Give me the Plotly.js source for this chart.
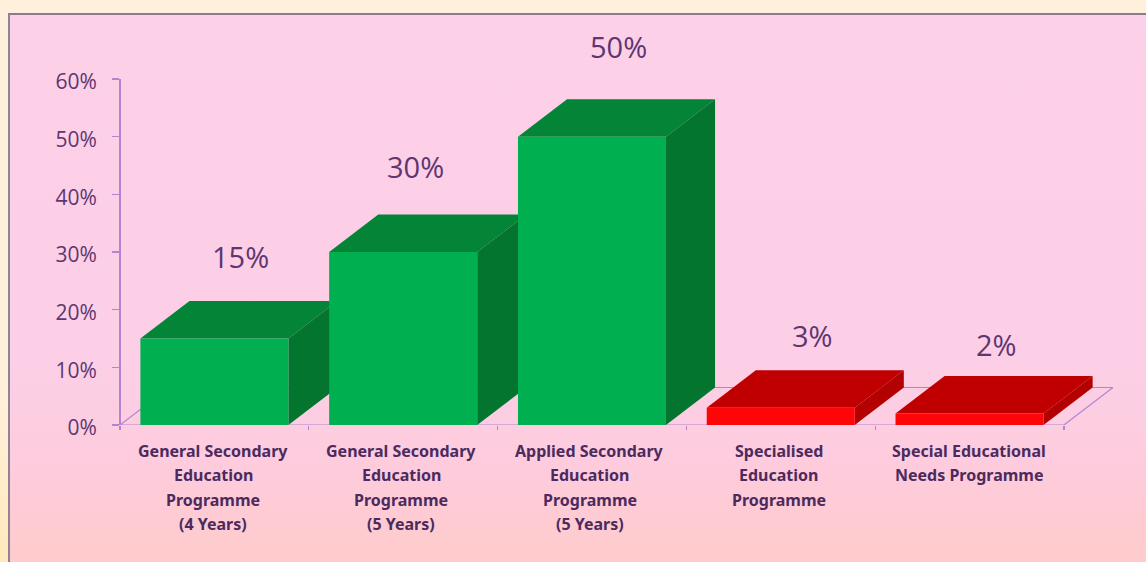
<!DOCTYPE html>
<html>
<head>
<meta charset="utf-8">
<script src="https://cdn.plot.ly/plotly-3.0.1.min.js"></script>
<style>
html,body{margin:0;padding:0;width:1146px;height:562px;overflow:hidden;
  background:linear-gradient(to bottom,#fff0dc 0%,#fff0da 70%,#ffe9bc 100%);}
#panel{position:absolute;left:8px;top:13px;width:1138px;height:549px;box-sizing:border-box;
  border-top:2px solid #8b7a8e;border-left:2px solid #8f8496;
  background:linear-gradient(to bottom,#fcd0e8 0%,#fccfe6 65%,#fecbdb 85%,#ffcbcb 100%);}
#chart{position:absolute;left:0;top:0;width:1146px;height:562px;}
</style>
</head>
<body>
<div id="panel"></div>
<div id="chart"></div>
<script>
// ---- data ----
var categories = [
  ['General Secondary','Education','Programme','(4 Years)'],
  ['General Secondary','Education','Programme','(5 Years)'],
  ['Applied Secondary','Education','Programme','(5 Years)'],
  ['Specialised','Education','Programme'],
  ['Special Educational','Needs Programme']
];
var values = [15, 30, 50, 3, 2];
var yTicks = [0, 10, 20, 30, 40, 50, 60];

// ---- styling ----
var frontColors = ['#00af50','#00af50','#00af50','#fe0508','#fe0508'];
var topColors   = ['#038436','#038436','#038436','#c00000','#c00000'];
var sideColors  = ['#04752f','#04752f','#04752f','#b30000','#b30000'];
var labelShiftX = [26, 12, 27, 32, 27];
var labelShiftY = [82, 86, 90, 72, 69];
var categoryShiftX = [-1, -2, -2, -2, -1];
var barWidth = 0.784, depthX = 0.26, depthY = 6.5;
var textColor = '#5e3670', categoryColor = '#4c2a5e', axisColor = '#b384d0';

var traces = [];
// floor of the 3D scene
traces.push({
  type:'scatter', mode:'lines', hoverinfo:'skip', showlegend:false, zorder:0,
  x:[-0.5, 4.5, 4.5+depthX, -0.5+depthX, -0.5],
  y:[0, 0, depthY, depthY, 0],
  line:{color:axisColor, width:1.2}
});
values.forEach(function(v, i){
  var l = i - barWidth/2, r = i + barWidth/2;
  traces.push({
    type:'scatter', mode:'lines', fill:'toself', hoverinfo:'skip', showlegend:false,
    zorder: 2*i + 1,
    x:[l, r, r+depthX, l+depthX, l], y:[v, v, v+depthY, v+depthY, v],
    line:{width:0, color:topColors[i]}, fillcolor:topColors[i]
  });
  traces.push({
    type:'scatter', mode:'lines', fill:'toself', hoverinfo:'skip', showlegend:false,
    zorder: 2*i + 1,
    x:[r, r+depthX, r+depthX, r, r], y:[0, depthY, v+depthY, v, 0],
    line:{width:0, color:sideColors[i]}, fillcolor:sideColors[i]
  });
  traces.push({
    type:'bar', x:[i], y:[v], width:barWidth, showlegend:false, hoverinfo:'skip',
    zorder: 2*i + 2,
    marker:{color:frontColors[i], line:{width:0}}
  });
});

var annotations = [];
values.forEach(function(v, i){
  annotations.push({
    x:i, y:v, xref:'x', yref:'y', text:v + '%', showarrow:false,
    xanchor:'center', yanchor:'middle',
    xshift:labelShiftX[i], yshift:labelShiftY[i],
    font:{family:'"Open Sans", sans-serif', size:29, color:textColor}
  });
  categories[i].forEach(function(line, k){
    annotations.push({
      x:i, y:0, xref:'x', yref:'paper', text:'<b>' + line + '</b>', showarrow:false,
      xanchor:'center', yanchor:'middle', yshift:-26 - 24.4*k, xshift:categoryShiftX[i],
      font:{family:'"Noto Sans", sans-serif', size:16, color:categoryColor}
    });
  });
});

var layout = {
  width:1146, height:562,
  margin:{l:119.5, r:32.5, t:79, b:137, pad:0},
  paper_bgcolor:'rgba(0,0,0,0)', plot_bgcolor:'rgba(0,0,0,0)',
  barmode:'overlay', showlegend:false, dragmode:false,
  xaxis:{
    type:'linear', range:[-0.5, 4.5+depthX], showgrid:false, zeroline:false, showline:false,
    ticks:'', showticklabels:false,
    minor:{tick0:-0.5, dtick:1, ticks:'outside', ticklen:4, tickwidth:1.2, tickcolor:axisColor, showgrid:false}
  },
  yaxis:{
    range:[0, 60], tickmode:'array', tickvals:yTicks,
    ticktext:yTicks.map(function(t){return t + '%';}),
    showgrid:false, zeroline:false, showline:false,
    ticks:'outside', ticklen:7, tickwidth:1.5, tickcolor:axisColor,
    ticklabelstandoff:11, ticklabelshift:3,
    tickfont:{family:'"Open Sans", sans-serif', size:21, color:textColor}
  },
  shapes:[{type:'line', xref:'paper', yref:'y', x0:0, x1:0, y0:0, y1:60, layer:'above',
           line:{color:axisColor, width:2}}],
  annotations:annotations
};
Plotly.newPlot('chart', traces, layout, {displayModeBar:false, staticPlot:true});
</script>
</body>
</html>
